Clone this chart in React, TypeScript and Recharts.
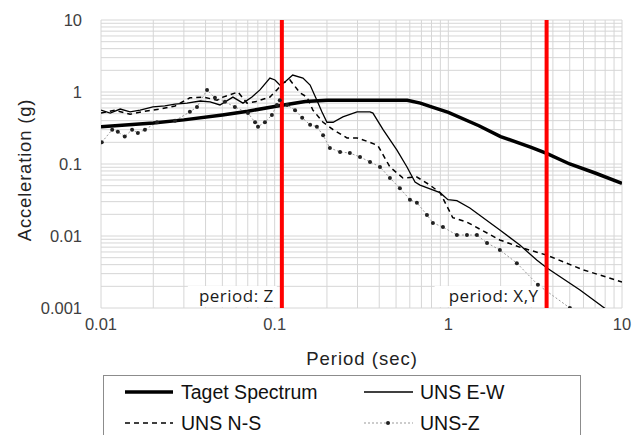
import React from "react";
import {
  CartesianGrid,
  Line,
  LineChart,
  ReferenceLine,
  XAxis,
  YAxis,
} from "recharts";

// target design spectrum
const targetPeriods = [0.01, 0.02, 0.03, 0.05, 0.07, 0.1, 0.13, 0.15, 0.2, 0.4, 0.58, 0.69, 0.8, 1, 1.5, 2, 3, 3.68, 5, 7, 10];
const targetAccel = [0.33, 0.37, 0.41, 0.48, 0.54, 0.63, 0.7, 0.74, 0.77, 0.77, 0.77, 0.7, 0.62, 0.52, 0.34, 0.24, 0.17, 0.14, 0.1, 0.075, 0.054];

// UNS E-W
const ewPeriods = [0.01, 0.0113, 0.0129, 0.0147, 0.0168, 0.0199, 0.0233, 0.0267, 0.0313, 0.0372, 0.0425, 0.0484, 0.0575, 0.0657, 0.074, 0.0823, 0.0939, 0.1004, 0.107, 0.1146, 0.127, 0.1455, 0.16, 0.175, 0.187, 0.2, 0.217, 0.247, 0.298, 0.354, 0.368, 0.421, 0.506, 0.578, 0.643, 0.687, 0.896, 0.995, 1.12, 1.33, 1.98, 2.58, 3.24, 3.7, 5.73, 8.2];
const ewAccel = [0.56, 0.51, 0.58, 0.53, 0.56, 0.62, 0.64, 0.68, 0.7, 0.75, 0.73, 0.66, 0.85, 0.7, 0.85, 1.07, 1.56, 1.47, 1.25, 1.38, 1.72, 1.56, 1.25, 0.77, 0.53, 0.38, 0.38, 0.45, 0.53, 0.53, 0.51, 0.3, 0.156, 0.091, 0.056, 0.051, 0.04, 0.032, 0.031, 0.0245, 0.0121, 0.0075, 0.0046, 0.0036, 0.00178, 0.00094];

// UNS N-S
const nsPeriods = [0.01, 0.012, 0.0147, 0.0179, 0.0219, 0.0267, 0.0325, 0.0387, 0.0466, 0.0504, 0.0615, 0.0693, 0.0771, 0.0939, 0.103, 0.1116, 0.1225, 0.14, 0.1535, 0.166, 0.19, 0.217, 0.261, 0.298, 0.354, 0.393, 0.461, 0.548, 0.659, 0.783, 0.896, 1.06, 1.28, 1.98, 2.58, 3.7, 5.96, 10];
const nsAccel = [0.51, 0.56, 0.49, 0.54, 0.58, 0.64, 0.83, 0.85, 0.77, 0.85, 1.0, 0.7, 0.73, 0.85, 1.07, 1.33, 1.47, 0.97, 0.85, 0.56, 0.38, 0.3, 0.23, 0.23, 0.2, 0.18, 0.091, 0.064, 0.066, 0.051, 0.04, 0.018, 0.0156, 0.0088, 0.007, 0.0054, 0.0034, 0.0023];

// UNS-Z
const zPeriods = [0.0101, 0.0116, 0.0125, 0.0137, 0.0151, 0.0163, 0.0179, 0.021, 0.0267, 0.0325, 0.0357, 0.0408, 0.0453, 0.0517, 0.059, 0.0702, 0.0771, 0.0802, 0.0879, 0.0964, 0.103, 0.107, 0.118, 0.131, 0.144, 0.16, 0.175, 0.19, 0.208, 0.238, 0.271, 0.31, 0.354, 0.404, 0.461, 0.526, 0.601, 0.659, 0.753, 0.815, 0.931, 1.12, 1.28, 1.46, 1.67, 1.98, 2.48, 3.28, 5.01];
const zAccel = [0.2, 0.3, 0.28, 0.24, 0.3, 0.27, 0.3, 0.38, 0.4, 0.53, 0.62, 1.07, 0.83, 0.73, 0.62, 0.51, 0.38, 0.33, 0.38, 0.48, 0.66, 0.77, 0.66, 0.56, 0.44, 0.35, 0.33, 0.25, 0.167, 0.147, 0.142, 0.125, 0.107, 0.091, 0.064, 0.046, 0.032, 0.029, 0.0196, 0.0152, 0.0133, 0.0103, 0.0103, 0.0103, 0.008, 0.0064, 0.0042, 0.0021, 0.001];

const periodMarks = [0.11, 3.68];
const periodLabels = ["period: Z", "period: X,Y"];

const xDecades = [0.01, 0.1, 1, 10];
const yDecades = [0.001, 0.01, 0.1, 1, 10];
const minorSteps = [1, 2, 3, 4, 5, 6, 7, 8, 9];

function logGrid(decades: number[]) {
  const out: number[] = [];
  decades.slice(0, -1).forEach((d) => {
    minorSteps.forEach((m) => out.push(+(d * m).toPrecision(3)));
  });
  out.push(decades[decades.length - 1]);
  return out;
}

const xTicks = logGrid(xDecades);
const yTicks = logGrid(yDecades);

function zip(periods: number[], accel: number[]) {
  return periods.map((p, i) => ({ period: p, accel: accel[i] }));
}

const FONT = "'Liberation Sans', Arial, sans-serif";

function decadeLabel(decades: number[]) {
  return (v: number) => (decades.some((d) => Math.abs(d - v) < d * 1e-6) ? String(v) : "");
}

function PeriodLabel({ viewBox, text }: any) {
  const { x, y, height } = viewBox;
  const w = text.length * 9 + 8;
  const right = x - 5;
  const base = y + height;
  return (
    <g>
      <rect x={right - w} y={base - 22} width={w} height={21} fill="#fff" />
      <text
        x={right - 3}
        y={base - 6}
        textAnchor="end"
        fontFamily="'Open Sans', sans-serif"
        fontSize={17}
        letterSpacing={0.5}
        fill="#1a1a1a"
      >
        {text}
      </text>
    </g>
  );
}

function LegendBox() {
  const row = (y: number, x: number, sample: React.ReactNode, label: string) => (
    <g>
      {sample}
      <text x={x + 56} y={y + 7} fontFamily={FONT} fontSize={19.5} fill="#111">
        {label}
      </text>
    </g>
  );
  return (
    <div
      style={{
        position: "absolute",
        left: 103,
        top: 375,
        width: 476,
        height: 80,
        border: "1px solid #8c8c8c",
        background: "#fff",
      }}
    >
      <svg width={476} height={80} style={{ position: "absolute", left: -1, top: -1 }}>
        {row(17, 22, <line x1={22} x2={70} y1={17} y2={17} stroke="#000" strokeWidth={3.5} />, "Taget Spectrum")}
        {row(17, 261, <line x1={261} x2={310} y1={17} y2={17} stroke="#000" strokeWidth={1.3} />, "UNS E-W")}
        {row(48, 22, <line x1={22} x2={70} y1={48} y2={48} stroke="#000" strokeWidth={1.5} strokeDasharray="5 4" />, "UNS N-S")}
        {row(
          48,
          261,
          <g>
            <line x1={261} x2={310} y1={48} y2={48} stroke="#999" strokeWidth={1} strokeDasharray="2 2" />
            <circle cx={285} cy={48} r={2} fill="#222" />
          </g>,
          "UNS-Z"
        )}
      </svg>
    </div>
  );
}

export default function App() {
  const tickStyle = { fill: "#404040", fontSize: 16.5, fontFamily: FONT };
  return (
    <div style={{ position: "absolute", left: 0, top: 0, width: 642, height: 435, background: "#fff" }}>
      <LineChart width={642} height={435} margin={{ top: 20, right: 20, bottom: 67, left: 0 }}>
        <CartesianGrid stroke="#d6d6d6" strokeWidth={1} />
        <XAxis
          dataKey="period"
          type="number"
          scale="log"
          domain={[0.01, 10]}
          allowDataOverflow
          ticks={xTicks}
          interval={0}
          tickFormatter={decadeLabel(xDecades)}
          tick={tickStyle}
          tickLine={false}
          axisLine={false}
          tickSize={0}
          tickMargin={10}
          height={60}
          label={{
            content: () => (
              <text x={362} y={365} textAnchor="middle" fontFamily={FONT} fontSize={18.5} letterSpacing={1} fill="#222">
                Period (sec)
              </text>
            ),
          }}
        />
        <YAxis
          dataKey="accel"
          type="number"
          scale="log"
          domain={[0.001, 10]}
          allowDataOverflow
          ticks={yTicks}
          interval={0}
          tickFormatter={decadeLabel(yDecades)}
          tick={tickStyle}
          tickLine={false}
          axisLine={false}
          tickSize={0}
          tickMargin={19}
          width={101}
          label={{
            content: () => (
              <text
                x={31}
                y={170}
                transform="rotate(-90 31 170)"
                textAnchor="middle"
                fontFamily={FONT}
                fontSize={18.5}
                letterSpacing={0.8}
                fill="#222"
              >
                Acceleration (g)
              </text>
            ),
          }}
        />
        <Line
          data={zip(zPeriods, zAccel)}
          dataKey="accel"
          type="linear"
          stroke="#9a9a9a"
          strokeWidth={1}
          strokeDasharray="2 2"
          dot={{ r: 2, fill: "#222", stroke: "none" }}
          isAnimationActive={false}
        />
        <Line
          data={zip(nsPeriods, nsAccel)}
          dataKey="accel"
          type="linear"
          stroke="#000"
          strokeWidth={1.5}
          strokeDasharray="5 4"
          dot={false}
          isAnimationActive={false}
        />
        <Line
          data={zip(ewPeriods, ewAccel)}
          dataKey="accel"
          type="linear"
          stroke="#000"
          strokeWidth={1.3}
          dot={false}
          isAnimationActive={false}
        />
        <Line
          data={zip(targetPeriods, targetAccel)}
          dataKey="accel"
          type="linear"
          stroke="#000"
          strokeWidth={3.5}
          dot={false}
          isAnimationActive={false}
        />
        {periodMarks.map((p, i) => (
          <ReferenceLine
            key={p}
            x={p}
            stroke="#ff0000"
            strokeWidth={4}
            label={(props: any) => <PeriodLabel {...props} text={periodLabels[i]} />}
          />
        ))}
      </LineChart>
      <LegendBox />
    </div>
  );
}
